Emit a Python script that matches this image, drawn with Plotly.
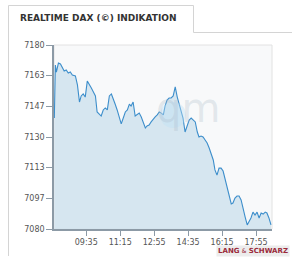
import plotly.graph_objects as go

times = ["08:01","08:04","08:07","08:13","08:19","08:25","08:30","08:36","08:42","08:48",
         "08:54","09:03","09:09","09:15","09:20","09:26","09:32","09:38","09:44","09:50",
         "09:56","10:02","10:07","10:13","10:19","10:25","10:31","10:37","10:43","10:49",
         "10:54","11:00","11:06","11:12","11:18","11:24","11:30","11:36","11:42","11:47",
         "11:53","11:59","12:05","12:11","12:17","12:23","12:29","12:34","12:40","12:46",
         "12:52","12:58","13:04","13:10","13:16","13:22","13:27","13:33","13:39","13:45",
         "13:51","13:57","14:03","14:09","14:15","14:20","14:26","14:32","14:38","14:44",
         "14:50","14:56","15:02","15:07","15:13","15:19","15:25","15:31","15:37","15:43",
         "15:49","15:54","16:00","16:06","16:12","16:18","16:24","16:30","16:36","16:42",
         "16:47","16:53","16:59","17:05","17:11","17:17","17:23","17:29","17:34","17:40",
         "17:46","17:52","17:58","18:04","18:10","18:16","18:22","18:27","18:33","18:39"]
values = [7140.3,7169.1,7165.3,7170.2,7169.7,7167.5,7165.9,7166.4,7164.8,7165.3,
          7163.7,7163.2,7158.3,7149.0,7152.3,7153.4,7151.7,7160.4,7158.8,7156.6,
          7154.5,7152.3,7143.6,7142.5,7141.4,7144.7,7145.8,7144.7,7152.3,7153.4,
          7151.2,7147.9,7144.7,7140.9,7137.1,7140.3,7143.6,7144.7,7147.9,7146.8,
          7149.0,7141.4,7142.0,7143.0,7140.9,7138.2,7134.9,7136.0,7136.5,7138.2,
          7139.8,7140.9,7142.0,7143.6,7143.0,7142.0,7146.8,7150.1,7151.2,7151.2,
          7152.3,7157.2,7151.7,7147.9,7144.7,7140.3,7132.7,7136.0,7139.2,7140.3,
          7139.2,7138.2,7132.7,7130.0,7130.5,7130.0,7128.4,7126.7,7124.0,7120.2,
          7117.5,7112.1,7109.3,7113.1,7113.1,7111.5,7106.6,7102.8,7098.5,7093.6,
          7094.1,7096.8,7097.9,7097.9,7095.8,7090.3,7086.5,7082.2,7083.8,7086.0,
          7089.2,7087.6,7089.2,7086.0,7088.7,7088.1,7089.2,7088.7,7086.0,7082.2]

x_ticks = ["09:35", "11:15", "12:55", "14:35", "16:15", "17:55"]
y_ticks = [7080, 7096.67, 7113.33, 7130, 7146.67, 7163.33, 7180]
y_labels = ["7080", "7097", "7113", "7130", "7147", "7163", "7180"]

day = "2013-05-02 "
xs = [day + t for t in times]

W, H = 292, 259
L, R, T, B = 54, 20, 45, 30
PW, PH = W - L - R, H - T - B


def px(x):
    return (x - L) / PW


def py(y):
    return (H - B - y) / PH


fig = go.Figure()
fig.add_trace(go.Scatter(
    x=xs, y=values, mode="lines",
    line=dict(color="#3d8ecb", width=1.1),
    fill="tozeroy", fillcolor="rgba(205,225,238,0.8)",
    hoverinfo="skip", showlegend=False,
))

fig.update_layout(
    width=W, height=H,
    margin=dict(l=L, r=R, t=T, b=B),
    paper_bgcolor="white",
    plot_bgcolor="#f8f9fa",
    font=dict(family="DejaVu Sans", size=8, color="#555555"),
    xaxis=dict(
        range=[day + "08:00", day + "18:42"],
        tickvals=[day + t for t in x_ticks], ticktext=x_ticks,
        ticks="outside", ticklen=5, tickcolor="#8c9aa6",
        showline=True, linecolor="#8c9aa6", linewidth=1.5,
        showgrid=False, zeroline=False, mirror=False,
    ),
    yaxis=dict(
        range=[7080, 7180],
        tickvals=y_ticks, ticktext=y_labels,
        ticks="outside", ticklen=6, tickcolor="#8c9aa6",
        showline=True, linecolor="#8c9aa6", linewidth=1.5,
        showgrid=False, zeroline=False,
    ),
    shapes=[
        dict(type="rect", xref="paper", yref="paper", x0=0, x1=1, y0=0, y1=1,
             line=dict(color="#e2e2e2", width=1), layer="below"),
        dict(type="path", xref="paper", yref="paper",
             path="M %f %f L %f %f L %f %f L %f %f" % (
                 px(8.5), py(256), px(8.5), py(5.5),
                 px(193.5), py(5.5), px(193.5), py(32.5)),
             line=dict(color="#d4d4d4", width=1)),
        dict(type="line", xref="paper", yref="paper",
             x0=px(193.5), x1=px(292), y0=py(32.5), y1=py(32.5),
             line=dict(color="#d4d4d4", width=1)),
        dict(type="circle", xref="paper", yref="paper",
             x0=px(160), x1=px(186), y0=py(128), y1=py(102),
             fillcolor="rgba(190,225,245,0.4)", line=dict(width=0)),
    ],
    annotations=[
        dict(text="<b>REALTIME DAX (©) INDIKATION</b>", xref="paper", yref="paper",
             x=px(18), y=py(18), xanchor="left", yanchor="middle",
             showarrow=False, font=dict(family="DejaVu Sans", size=9, color="#333333")),
        dict(text="qm", xref="paper", yref="paper",
             x=px(188), y=py(108), xanchor="center", yanchor="middle",
             showarrow=False, font=dict(family="DejaVu Sans", size=40, color="rgba(170,185,200,0.3)")),
        dict(text="<b>LANG</b> <span style='font-size:6px'>&</span> <b>SCHWARZ</b>",
             xref="paper", yref="paper",
             x=px(290), y=py(251), xanchor="right", yanchor="middle",
             showarrow=False, bgcolor="#ececec", borderpad=1,
             font=dict(family="DejaVu Sans", size=7, color="#9b2a3a")),
    ],
)

fig.write_html("out.html", config={"displayModeBar": False},
               post_script="document.body.style.margin='0';")
